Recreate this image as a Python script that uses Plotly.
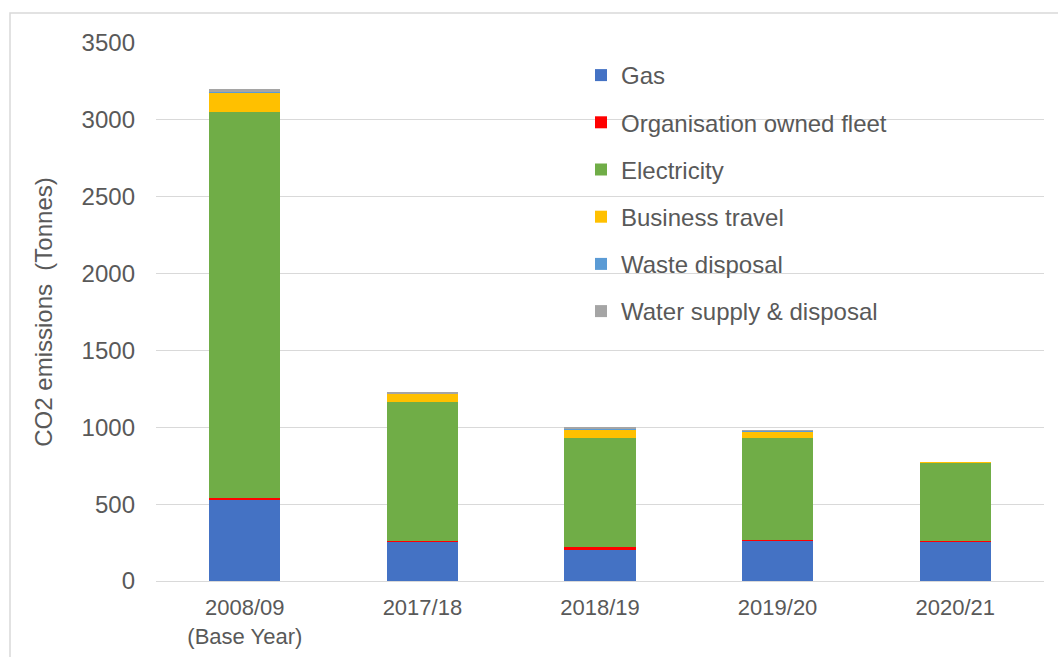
import plotly.graph_objects as go

years = ["2008/09<br>(Base Year)", "2017/18", "2018/19", "2019/20", "2020/21"]
gas = [526, 258, 206, 262, 260]
fleet = [15, 5, 12, 6, 1]
electricity = [2509, 902, 713, 663, 510]
business_travel = [124, 55, 55, 44, 3]
waste_disposal = [13, 3, 5, 3, 0]
water_supply = [11, 3, 5, 3, 0]

series = [
    ("Gas", gas, "#4472C4"),
    ("Organisation owned fleet", fleet, "#FF0000"),
    ("Electricity", electricity, "#70AD47"),
    ("Business travel", business_travel, "#FFC000"),
    ("Waste disposal", waste_disposal, "#5B9BD5"),
    ("Water supply & disposal", water_supply, "#A5A5A5"),
]

fig = go.Figure()
for name, vals, col in series:
    fig.add_trace(go.Bar(x=years, y=vals, name=name, legendgroup=name,
                         marker=dict(color=col, line=dict(width=0))))

font = "Liberation Sans, Arial, sans-serif"
L, R, T, B = 156, 14, 43, 76
W, H = 1058, 657
pw, ph = W - L - R, H - T - B
fig.update_layout(
    width=W, height=H,
    barmode="stack", bargap=0.6,
    paper_bgcolor="white", plot_bgcolor="white",
    margin=dict(l=L, r=R, t=T, b=B, autoexpand=False),
    font=dict(family=font, size=22, color="#595959"),
    legend=dict(x=(581 - L) / pw, y=1 - (53 - T) / ph, xanchor="left", yanchor="top",
                traceorder="grouped", tracegroupgap=13,
                bgcolor="rgba(0,0,0,0)", font=dict(size=24, color="#595959")),
    yaxis=dict(range=[0, 3500], dtick=500, showgrid=True, gridcolor="#D9D9D9",
               gridwidth=1, zeroline=False, showline=False, ticks="",
               ticklabelstandoff=20,
               tickfont=dict(size=24, color="#595959"),
               title=dict(text="CO2 emissions\u00a0\u00a0(Tonnes)", standoff=22,
                          font=dict(size=24, color="#595959"))),
    xaxis=dict(showline=True, linecolor="#D9D9D9", linewidth=1, ticks="",
               ticklabelstandoff=7,
               tickfont=dict(size=22, color="#595959")),
    shapes=[dict(type="rect", xref="paper", yref="paper",
                 x0=(10 - L) / pw, x1=(1070 - L) / pw,
                 y0=-(670 - (H - B)) / ph, y1=1 + (T - 13) / ph,
                 line=dict(color="#D9D9D9", width=1.5), fillcolor="rgba(0,0,0,0)",
                 layer="below")],
)

fig.write_html("out.html", config={"displayModeBar": False},
               post_script="document.body.style.margin='0';")
